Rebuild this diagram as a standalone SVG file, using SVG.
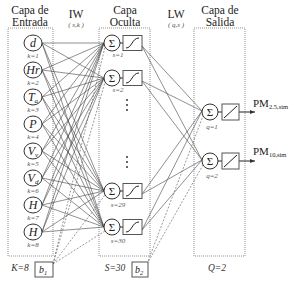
<svg xmlns="http://www.w3.org/2000/svg" width="295" height="281" viewBox="0 0 295 281">
<style>
text{font-family:"Liberation Serif",serif;fill:#222}
.t{font-size:11.5px}
.s{font-size:7px;font-style:italic;fill:#555}
.v{font-size:12px;font-style:italic}
.box{fill:none;stroke:#777;stroke-width:0.8;stroke-dasharray:1,1}
.c{fill:#fff;stroke:#333;stroke-width:1}
.f{fill:#fff;stroke:#555;stroke-width:1}
.w{stroke:#444;stroke-width:0.6;fill:none}
.d{stroke:#555;stroke-width:0.6;fill:none;stroke-dasharray:2,1.5}
.g{fill:none;stroke:#222;stroke-width:1}
</style>
<defs>
<marker id="ar" markerWidth="6" markerHeight="6" refX="5" refY="3" orient="auto" markerUnits="userSpaceOnUse">
<path d="M0,1 L5,3 L0,5 Z" fill="#333"/>
</marker>
</defs>
<g id="labels">
<text class="t" x="30" y="14" text-anchor="middle">Capa de</text>
<text class="t" x="30" y="26" text-anchor="middle">Entrada</text>
<text class="t" x="76" y="18" text-anchor="middle">IW</text>
<text class="s" x="76" y="27" text-anchor="middle">( s,k )</text>
<text class="t" x="125" y="14" text-anchor="middle">Capa</text>
<text class="t" x="125" y="26" text-anchor="middle">Oculta</text>
<text class="t" x="176" y="18" text-anchor="middle">LW</text>
<text class="s" x="176" y="27" text-anchor="middle">( q,s )</text>
<text class="t" x="220" y="14" text-anchor="middle">Capa de</text>
<text class="t" x="220" y="26" text-anchor="middle">Salida</text>
<text class="s" x="20" y="271" text-anchor="middle" style="font-size:9.5px;fill:#333">K=8</text>
<text class="s" x="115" y="271" text-anchor="middle" style="font-size:9.5px;fill:#333">S=30</text>
<text class="s" x="217" y="271" text-anchor="middle" style="font-size:9.5px;fill:#333">Q=2</text>
</g>
<g id="layers">
<rect class="box" x="8" y="28" width="45" height="228"/>
<rect class="box" x="99" y="28" width="51" height="228"/>
<rect class="box" x="194" y="28" width="51" height="228"/>
</g>
<g id="connectors">
<path class="w" d="M42,43L104,43M42,43L104,78M42,43L104,191M42,43L104,227
M42,70L104,43M42,70L104,78M42,70L104,191M42,70L104,227
M42,97L104,43M42,97L104,78M42,97L104,191M42,97L104,227
M42,124L104,43M42,124L104,78M42,124L104,191M42,124L104,227
M42,151L104,43M42,151L104,78M42,151L104,191M42,151L104,227
M42,178L104,43M42,178L104,78M42,178L104,191M42,178L104,227
M42,205L104,43M42,205L104,78M42,205L104,191M42,205L104,227
M42,232L104,43M42,232L104,78M42,232L104,191M42,232L104,227"/>
<path class="d" d="M53,264L105,47M53,264L105,82M53,264L105,195M53,264L105,231"/>
<path class="w" d="M142,46L202,111M142,46L202,160M142,81L202,111M142,81L202,160
M142,194L202,111M142,194L202,160M142,230L202,111M142,230L202,160"/>
<path class="d" d="M147,264L203,116M147,264L203,165"/>
<line class="g" x1="239" y1="112" x2="255" y2="112" marker-end="url(#ar)"/>
<line class="g" x1="239" y1="161" x2="255" y2="161" marker-end="url(#ar)"/>
<line class="g" x1="218" y1="112" x2="222" y2="112"/>
<line class="g" x1="218" y1="161" x2="222" y2="161"/>
<line class="g" x1="120" y1="43" x2="123" y2="43"/>
<line class="g" x1="120" y1="78" x2="123" y2="78"/>
<line class="g" x1="120" y1="191" x2="123" y2="191"/>
<line class="g" x1="120" y1="227" x2="123" y2="227"/>
</g>
<g id="in1"><ellipse class="c" cx="33" cy="43" rx="9" ry="8"/><text class="v" x="33" y="47" text-anchor="middle">d</text><text class="s" x="33" y="58" text-anchor="middle">k=1</text></g>
<g id="in2"><ellipse class="c" cx="33" cy="70" rx="9" ry="8"/><text class="v" x="33" y="74" text-anchor="middle">Hr</text><text class="s" x="33" y="85" text-anchor="middle">k=2</text></g>
<g id="in3"><ellipse class="c" cx="33" cy="97" rx="9" ry="8"/><text class="v" x="33" y="101" text-anchor="middle">T<tspan style="font-size:7px" dy="2">a</tspan></text><text class="s" x="33" y="112" text-anchor="middle">k=3</text></g>
<g id="in4"><ellipse class="c" cx="33" cy="124" rx="9" ry="8"/><text class="v" x="33" y="128" text-anchor="middle">P</text><text class="s" x="33" y="139" text-anchor="middle">k=4</text></g>
<g id="in5"><ellipse class="c" cx="33" cy="151" rx="9" ry="8"/><text class="v" x="33" y="155" text-anchor="middle">V<tspan style="font-size:7px" dy="2">v</tspan></text><text class="s" x="33" y="166" text-anchor="middle">k=5</text></g>
<g id="in6"><ellipse class="c" cx="33" cy="178" rx="9" ry="8"/><text class="v" x="33" y="182" text-anchor="middle">V<tspan style="font-size:7px" dy="2">d</tspan></text><text class="s" x="33" y="193" text-anchor="middle">k=6</text></g>
<g id="in7"><ellipse class="c" cx="33" cy="205" rx="9" ry="8"/><text class="v" x="33" y="209" text-anchor="middle">H</text><text class="s" x="33" y="220" text-anchor="middle">k=7</text></g>
<g id="in8"><ellipse class="c" cx="33" cy="232" rx="9" ry="8"/><text class="v" x="33" y="236" text-anchor="middle">H</text><text class="s" x="33" y="247" text-anchor="middle">k=8</text></g>
<g id="b1"><rect class="f" x="35" y="262" width="18" height="15"/><text class="v" x="43" y="273" text-anchor="middle" style="font-size:10px">b<tspan style="font-size:6.5px" dy="2">1</tspan></text></g>
<g id="b2"><rect class="f" x="132" y="262" width="16" height="15"/><text class="v" x="139" y="273" text-anchor="middle" style="font-size:10px">b<tspan style="font-size:6.5px" dy="2">2</tspan></text></g>
<g id="h1"><circle class="c" cx="112" cy="43" r="8"/><text x="112" y="47" text-anchor="middle" style="font-size:11px">Σ</text><rect class="f" x="123" y="35.5" width="19" height="15"/><path class="g" d="M126,48 C132,48 132,38 139,38"/><text class="s" x="118" y="57" text-anchor="middle">s=1</text></g>
<g id="h2"><circle class="c" cx="112" cy="78" r="8"/><text x="112" y="82" text-anchor="middle" style="font-size:11px">Σ</text><rect class="f" x="123" y="70.5" width="19" height="15"/><path class="g" d="M126,83 C132,83 132,73 139,73"/><text class="s" x="118" y="92" text-anchor="middle">s=2</text></g>
<g id="dots"><path d="M127,99v2M127,104v2M127,109v2M127,156v2M127,161v2M127,166v2" stroke="#333" stroke-width="1.5"/></g>
<g id="h29"><circle class="c" cx="112" cy="191" r="8"/><text x="112" y="195" text-anchor="middle" style="font-size:11px">Σ</text><rect class="f" x="123" y="183.5" width="19" height="15"/><path class="g" d="M126,196 C132,196 132,186 139,186"/><text class="s" x="118" y="207" text-anchor="middle">s=29</text></g>
<g id="h30"><circle class="c" cx="112" cy="227" r="8"/><text x="112" y="231" text-anchor="middle" style="font-size:11px">Σ</text><rect class="f" x="123" y="219.5" width="19" height="15"/><path class="g" d="M126,232 C132,232 132,222 139,222"/><text class="s" x="118" y="243" text-anchor="middle">s=30</text></g>
<g id="o1"><circle class="c" cx="210" cy="112" r="8"/><text x="210" y="116" text-anchor="middle" style="font-size:11px">Σ</text><rect class="f" x="222" y="104" width="17" height="16"/><path class="g" d="M224,118 L237,106"/><text class="s" x="212" y="129" text-anchor="middle">q=1</text><text x="253" y="107" style="font-size:11px">PM<tspan style="font-size:6.5px" dy="2">2.5,sim</tspan></text></g>
<g id="o2"><circle class="c" cx="210" cy="161" r="8"/><text x="210" y="165" text-anchor="middle" style="font-size:11px">Σ</text><rect class="f" x="222" y="153" width="17" height="16"/><path class="g" d="M224,167 L237,155"/><text class="s" x="212" y="178" text-anchor="middle">q=2</text><text x="253" y="155" style="font-size:11px">PM<tspan style="font-size:6.5px" dy="2">10,sim</tspan></text></g>
</svg>
